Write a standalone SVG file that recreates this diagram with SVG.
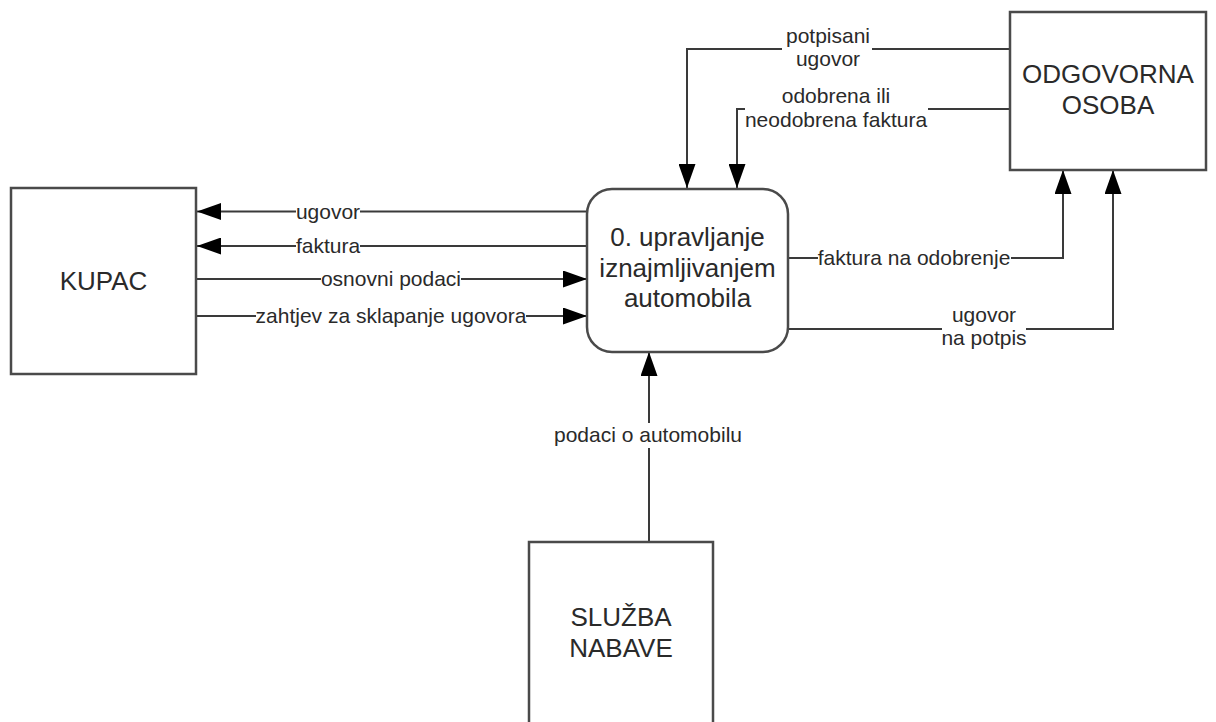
<svg xmlns="http://www.w3.org/2000/svg" width="1216" height="722" viewBox="0 0 1216 722">
  <style>
    .box { fill: #ffffff; stroke: #4a4a4a; stroke-width: 2.5; }
    .node { font-family: "Liberation Sans", Arial, sans-serif; font-size: 26px; fill: #2a2a2a; text-anchor: middle; }
    .lbl { font-family: "Liberation Sans", Arial, sans-serif; font-size: 21px; fill: #2a2a2a; text-anchor: middle; }
    .conn { fill: none; stroke: #3a3a3a; stroke-width: 2; }
  </style>
  <defs>
    <marker id="arrow" viewBox="0 0 24 17" markerWidth="24" markerHeight="17" refX="24" refY="8.5" orient="auto" markerUnits="userSpaceOnUse">
      <path d="M0,0 L24,8.5 L0,17 Z" fill="#000000"/>
    </marker>
  </defs>
  <rect width="1216" height="722" fill="#ffffff"/>

  <g id="connectors">
    <path class="conn" d="M587,211.5 L360,211.5 M296,211.5 L197,211.5" marker-end="url(#arrow)"/>
    <path class="conn" d="M587,246 L360,246 M296,246 L197,246" marker-end="url(#arrow)"/>
    <path class="conn" d="M197,279 L321,279 M461,279 L587,279" marker-end="url(#arrow)"/>
    <path class="conn" d="M197,316 L256,316 M526,316 L587,316" marker-end="url(#arrow)"/>
    <path class="conn" d="M1010,49 L872,49 M782,49 L687,49 L687,188" marker-end="url(#arrow)"/>
    <path class="conn" d="M1010,109 L928,109 M745,109 L737,109 L737,188" marker-end="url(#arrow)"/>
    <path class="conn" d="M788,258 L818,258 M1011,258 L1063,258 L1063,170" marker-end="url(#arrow)"/>
    <path class="conn" d="M788,329 L942,329 M1026,329 L1113,329 L1113,170" marker-end="url(#arrow)"/>
    <path class="conn" d="M649,542 L649,448 M649,423 L649,352" marker-end="url(#arrow)"/>
    <text class="lbl" x="328" y="218.5">ugovor</text>
    <text class="lbl" x="328" y="253">faktura</text>
    <text class="lbl" x="391" y="286">osnovni podaci</text>
    <text class="lbl" x="391" y="323">zahtjev za sklapanje ugovora</text>
    <text class="lbl" x="828" y="43">potpisani</text>
    <text class="lbl" x="828" y="66">ugovor</text>
    <text class="lbl" x="836" y="103">odobrena ili</text>
    <text class="lbl" x="836" y="127">neodobrena faktura</text>
    <text class="lbl" x="914" y="265">faktura na odobrenje</text>
    <text class="lbl" x="984" y="322">ugovor</text>
    <text class="lbl" x="984" y="345">na potpis</text>
    <text class="lbl" x="648" y="442">podaci o automobilu</text>
  </g>

  <g id="kupac">
    <rect class="box" x="11" y="188" width="185" height="186"/>
    <text class="node" x="103.5" y="290">KUPAC</text>
  </g>

  <g id="proces">
    <rect class="box" x="587" y="189" width="201" height="163" rx="25" ry="25"/>
    <text class="node" x="687.5" y="246">0. upravljanje</text>
    <text class="node" x="687.5" y="277">iznajmljivanjem</text>
    <text class="node" x="687.5" y="307">automobila</text>
  </g>

  <g id="odgovorna-osoba">
    <rect class="box" x="1010" y="12" width="196" height="158"/>
    <text class="node" x="1108" y="83">ODGOVORNA</text>
    <text class="node" x="1108" y="114">OSOBA</text>
  </g>

  <g id="sluzba-nabave">
    <rect class="box" x="529" y="542" width="184" height="200"/>
    <text class="node" x="621" y="626">SLUŽBA</text>
    <text class="node" x="621" y="657">NABAVE</text>
  </g>
</svg>
